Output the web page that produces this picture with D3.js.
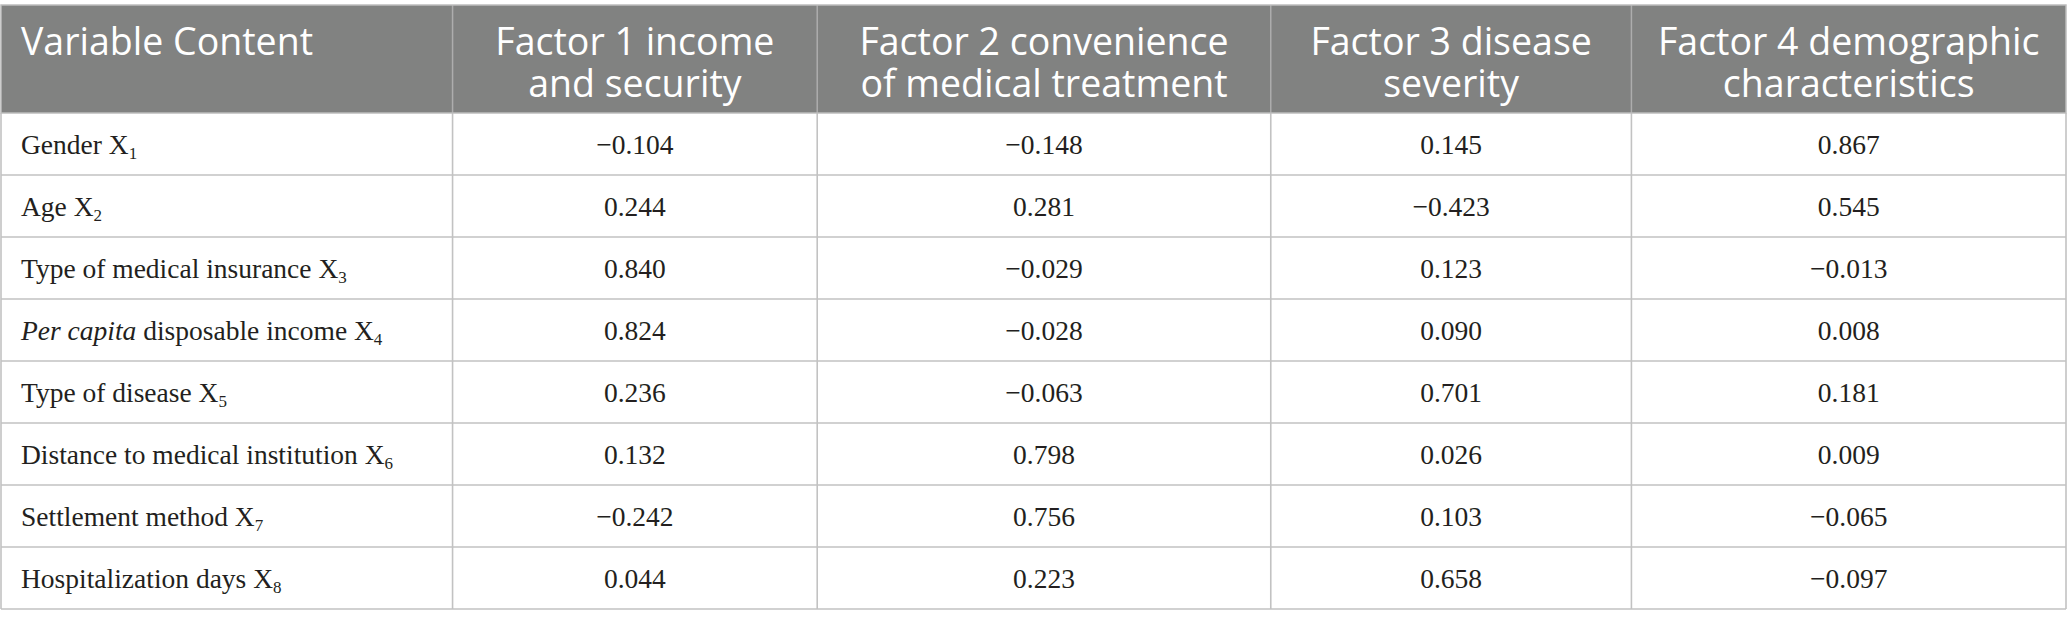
<!DOCTYPE html>
<html>
<head>
<meta charset="utf-8">
<script src="https://cdn.jsdelivr.net/npm/d3@7"></script>
<style>
  body { margin: 0; background: #fff; }
  svg { display: block; }
</style>
</head>
<body>
<div id="table-container"></div>
<script>
/* CONSTANTS AND GLOBALS */
const width = 2067,
  height = 629,
  margin = { top: 5, left: 1, right: 1 },
  headerHeight = 108,
  bodyBottom = 609;

// header text, one array per header cell (lines)
const headers = [
  ["Variable Content"],
  ["Factor 1 income", "and security"],
  ["Factor 2 convenience", "of medical treatment"],
  ["Factor 3 disease", "severity"],
  ["Factor 4 demographic", "characteristics"]
];

// row labels: [italic part, plain part, subscript]
const variables = [
  ["", "Gender X", "1"],
  ["", "Age X", "2"],
  ["", "Type of medical insurance X", "3"],
  ["Per capita", " disposable income X", "4"],
  ["", "Type of disease X", "5"],
  ["", "Distance to medical institution X", "6"],
  ["", "Settlement method X", "7"],
  ["", "Hospitalization days X", "8"]
];

// loadings per factor
const factor1 = [-0.104, 0.244, 0.840, 0.824, 0.236, 0.132, -0.242, 0.044];
const factor2 = [-0.148, 0.281, -0.029, -0.028, -0.063, 0.798, 0.756, 0.223];
const factor3 = [0.145, -0.423, 0.123, 0.090, 0.701, 0.026, 0.103, 0.658];
const factor4 = [0.867, 0.545, -0.013, 0.008, 0.181, 0.009, -0.065, -0.097];

// relative column widths
const colWidths = [452, 365, 454, 361, 435];

let svg;

function init() {
  svg = d3.select("#table-container")
    .append("svg")
    .attr("width", width)
    .attr("height", height);

  // column edges from widths
  const edges = [0];
  colWidths.forEach(w => edges.push(edges[edges.length - 1] + w));
  const xScale = d3.scaleLinear()
    .domain([0, edges[edges.length - 1]])
    .range([margin.left, width - margin.right]);
  const colX = i => xScale(edges[i]);
  const colMid = i => (xScale(edges[i]) + xScale(edges[i + 1])) / 2;

  const yScale = d3.scaleBand()
    .domain(d3.range(variables.length))
    .range([margin.top + headerHeight, bodyBottom]);

  const left = colX(0), right = colX(colWidths.length);

  // header background
  svg.append("rect")
    .attr("x", left)
    .attr("y", margin.top)
    .attr("width", right - left)
    .attr("height", headerHeight)
    .attr("fill", "#818281");

  // header text, one text element per line
  const hdr = svg.append("g").attr("class", "header");
  headers.forEach((lines, i) => {
    lines.forEach((l, j) => {
      hdr.append("text")
        .attr("x", i === 0 ? left + 20 : colMid(i))
        .attr("y", margin.top + 50 + j * 42)
        .attr("text-anchor", i === 0 ? "start" : "middle")
        .attr("fill", "#fff")
        .style("font-family", "'Open Sans', sans-serif")
        .style("font-size", "37.5px")
        .text(l);
    });
  });

  // header dividers
  svg.append("g")
    .selectAll("line")
    .data(d3.range(1, colWidths.length))
    .join("line")
    .attr("x1", d => colX(d))
    .attr("x2", d => colX(d))
    .attr("y1", margin.top)
    .attr("y2", margin.top + headerHeight)
    .attr("stroke", "#adadad")
    .attr("stroke-width", 1.5);

  // body grid
  const grid = svg.append("g").attr("stroke", "#c2c2c2").attr("stroke-width", 1.6);
  grid.selectAll(".h")
    .data(d3.range(variables.length))
    .join("line")
    .attr("class", "h")
    .attr("x1", left).attr("x2", right)
    .attr("y1", d => yScale(d) + yScale.bandwidth())
    .attr("y2", d => yScale(d) + yScale.bandwidth());
  grid.selectAll(".v")
    .data(d3.range(0, colWidths.length + 1))
    .join("line")
    .attr("class", "v")
    .attr("x1", d => colX(d)).attr("x2", d => colX(d))
    .attr("y1", margin.top + headerHeight)
    .attr("y2", bodyBottom);
  // outer header border
  svg.append("rect")
    .attr("x", left).attr("y", margin.top)
    .attr("width", right - left).attr("height", headerHeight)
    .attr("fill", "none")
    .attr("stroke", "#bdbdbd")
    .attr("stroke-width", 1.5);

  const serif = "'Liberation Serif', 'Times New Roman', serif";
  const textY = d => yScale(d) + yScale.bandwidth() / 2 + 10;

  // row labels
  const labels = svg.append("g")
    .selectAll("text")
    .data(variables)
    .join("text")
    .attr("x", left + 20)
    .attr("y", (d, i) => textY(i))
    .attr("fill", "#231f20")
    .style("font-family", serif)
    .style("font-size", "27.5px");
  labels.each(function(d) {
    const t = d3.select(this);
    if (d[0]) t.append("tspan").style("font-style", "italic").text(d[0]);
    t.append("tspan").text(d[1]);
    t.append("tspan")
      .attr("dy", 5)
      .style("font-size", "17px")
      .text(d[2]);
  });

  // value cells
  const fmt = v => (v < 0 ? "\u2212" : "") + d3.format(".3f")(Math.abs(v));
  [factor1, factor2, factor3, factor4].forEach((series, c) => {
    svg.append("g")
      .selectAll("text")
      .data(series)
      .join("text")
      .attr("x", colMid(c + 1))
      .attr("y", (d, i) => textY(i))
      .attr("text-anchor", "middle")
      .attr("fill", "#231f20")
      .style("font-family", serif)
      .style("font-size", "27.5px")
      .text(d => fmt(d));
  });
}

init();
</script>
</body>
</html>
